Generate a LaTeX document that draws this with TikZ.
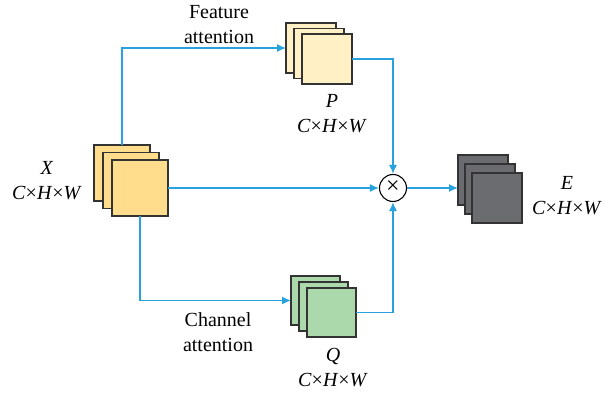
\documentclass[tikz,border=0pt]{standalone}
\usepackage{fontspec}
\setmainfont{Liberation Serif}
\usetikzlibrary{arrows.meta}
\definecolor{lineblue}{HTML}{27A2DF}
\definecolor{xfill}{HTML}{FFDD8C}
\definecolor{pfill}{HTML}{FFF0C6}
\definecolor{qfill}{HTML}{ACD9AC}
\definecolor{efill}{HTML}{6B6C6F}
\definecolor{edge}{HTML}{333333}
\newcommand{\chw}{\textit{C}×\textit{H}×\textit{W}}
\tikzset{
  fm/.style={draw=edge, line width=1.3pt, anchor=north west, inner sep=0pt, outer sep=0pt, minimum width=#1, minimum height=#1},
  conn/.style={draw=lineblue, line width=1.4pt},
  arr/.style={conn, -{Latex[length=9pt,width=8pt]}},
  lbl/.style={font=\fontsize{20}{25}\selectfont, align=center, inner sep=0pt}
}
\begin{document}
\begin{tikzpicture}[x=1pt,y=-1pt]
\useasboundingbox (0,0) rectangle (606,395);
% X stack
\node[fm=56pt, fill=xfill] (X1) at (94,145) {};
\node[fm=56pt, fill=xfill] (X2) at (103,152.5) {};
\node[fm=56pt, fill=xfill] (X3) at (112,160) {};
% P stack
\node[fm=50pt, fill=pfill] (P1) at (286,23) {};
\node[fm=50pt, fill=pfill] (P2) at (294,28.5) {};
\node[fm=50pt, fill=pfill] (P3) at (302,34) {};
% Q stack
\node[fm=49pt, fill=qfill] (Q1) at (291,276) {};
\node[fm=49pt, fill=qfill] (Q2) at (299,282) {};
\node[fm=49pt, fill=qfill] (Q3) at (307,288) {};
% E stack
\node[fm=50pt, fill=efill] (E1) at (458,155) {};
\node[fm=50pt, fill=efill] (E2) at (465,164) {};
\node[fm=50pt, fill=efill] (E3) at (472,173) {};
% multiply
\node[circle, draw=black, line width=1.1pt, minimum size=27pt, inner sep=0pt, font=\fontsize{24}{24}\selectfont] (M) at (393,188) {\raisebox{1pt}{×}};
% connectors
\draw[arr] (X1.north) |- (P1.west);
\draw[arr] (X3.south) |- (Q1.west);
\draw[arr] (X3.east) -- (M.west);
\draw[arr] (P3.east) -| (M.north);
\draw[arr] (Q3.east) -| (M.south);
\draw[arr] (M.east) -- (M.east -| E1.west);
% labels
\node[lbl] (lf) at (219,25) {Feature\\attention};
\node[lbl] (lc) at (218,332) {Channel\\attention};
\node[lbl] (lx) at (47,181) {\textit{X}\\\chw};
\node[lbl] (lp) at (332,114) {\textit{P}\\\chw};
\node[lbl] (lq) at (333,368) {\textit{Q}\\\chw};
\node[lbl] (le) at (567,196) {\textit{E}\\\chw};
\end{tikzpicture}
\end{document}
